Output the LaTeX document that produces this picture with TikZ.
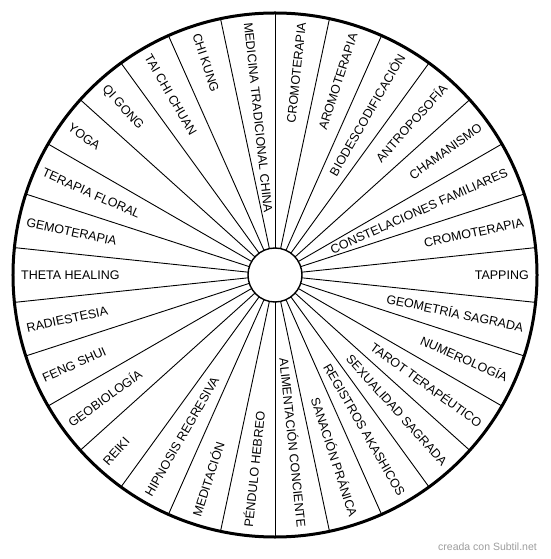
\documentclass[tikz,border=0pt]{standalone}
\usepackage{fontspec}
\setmainfont{Liberation Sans}
\begin{document}
\begin{tikzpicture}[x=1pt,y=1pt,
  lblR/.style={anchor=east, inner sep=0pt, text height=9pt, text depth=0pt, font=\fontsize{12.5}{14}\selectfont},
  lblL/.style={lblR, anchor=west}]
\useasboundingbox[fill=white] (-275,-284) rectangle (275,275);

% sector lines
\foreach \a in {6,18,...,354}
  \draw[line width=0.9pt] (\a:27pt) -- (\a:262pt);
\draw[line width=3pt] (0,0) circle (262pt);
\draw[line width=1.4pt, fill=white] (0,0) circle (27pt);

% right half
\node[lblR, rotate=84] (cromoA) at (84:254pt) {CROMOTERAPIA};
\node[lblR, rotate=72] (aromo) at (72:254pt) {AROMOTERAPIA};
\node[lblR, rotate=60] (biodes) at (60:254pt) {BIODESCODIFICACIÓN};
\node[lblR, rotate=48] (antropo) at (48:254pt) {ANTROPOSOFÍA};
\node[lblR, rotate=36] (chaman) at (36:254pt) {CHAMANISMO};
\node[lblR, rotate=24] (constel) at (24:254pt) {CONSTELACIONES FAMILIARES};
\node[lblR, rotate=12] (cromoB) at (12:254pt) {CROMOTERAPIA};
\node[lblR, rotate=0] (tapping) at (0:254pt) {TAPPING};
\node[lblR, rotate=-12] (geomet) at (-12:254pt) {GEOMETRÍA SAGRADA};
\node[lblR, rotate=-24] (numero) at (-24:254pt) {NUMEROLOGÍA};
\node[lblR, rotate=-36] (tarot) at (-36:254pt) {TAROT TERAPÉUTICO};
\node[lblR, rotate=-48] (sexual) at (-48:254pt) {SEXUALIDAD SAGRADA};
\node[lblR, rotate=-60] (registros) at (-60:254pt) {REGISTROS AKASHICOS};
\node[lblR, rotate=-72] (sanacion) at (-72:254pt) {SANACIÓN PRÁNICA};
\node[lblR, rotate=-84] (aliment) at (-84:254pt) {ALIMENTACIÓN CONCIENTE};

% left half
\node[lblL, rotate=-84] (medicina) at (96:254pt) {MEDICINA TRADICIONAL CHINA};
\node[lblL, rotate=-72] (chikung) at (108:254pt) {CHI KUNG};
\node[lblL, rotate=-60] (taichi) at (120:254pt) {TAI CHI CHUAN};
\node[lblL, rotate=-48] (qigong) at (132:254pt) {QI GONG};
\node[lblL, rotate=-36] (yoga) at (144:254pt) {YOGA};
\node[lblL, rotate=-24] (floral) at (156:254pt) {TERAPIA FLORAL};
\node[lblL, rotate=-12] (gemo) at (168:254pt) {GEMOTERAPIA};
\node[lblL, rotate=0] (theta) at (180:254pt) {THETA HEALING};
\node[lblL, rotate=12] (radiest) at (192:254pt) {RADIESTESIA};
\node[lblL, rotate=24] (feng) at (204:254pt) {FENG SHUI};
\node[lblL, rotate=36] (geobio) at (216:254pt) {GEOBIOLOGÍA};
\node[lblL, rotate=48] (reiki) at (228:254pt) {REIKI};
\node[lblL, rotate=60] (hipnosis) at (240:254pt) {HIPNOSIS REGRESIVA};
\node[lblL, rotate=72] (medita) at (252:254pt) {MEDITACIÓN};
\node[lblL, rotate=84] (pendulo) at (264:254pt) {PÉNDULO HEBREO};

% watermark
\node[inner sep=0pt, text=black!38, font=\fontsize{10.5}{12}\selectfont] (marca) at (212.5,-272) {creada con Subtil.net};
\end{tikzpicture}
\end{document}
